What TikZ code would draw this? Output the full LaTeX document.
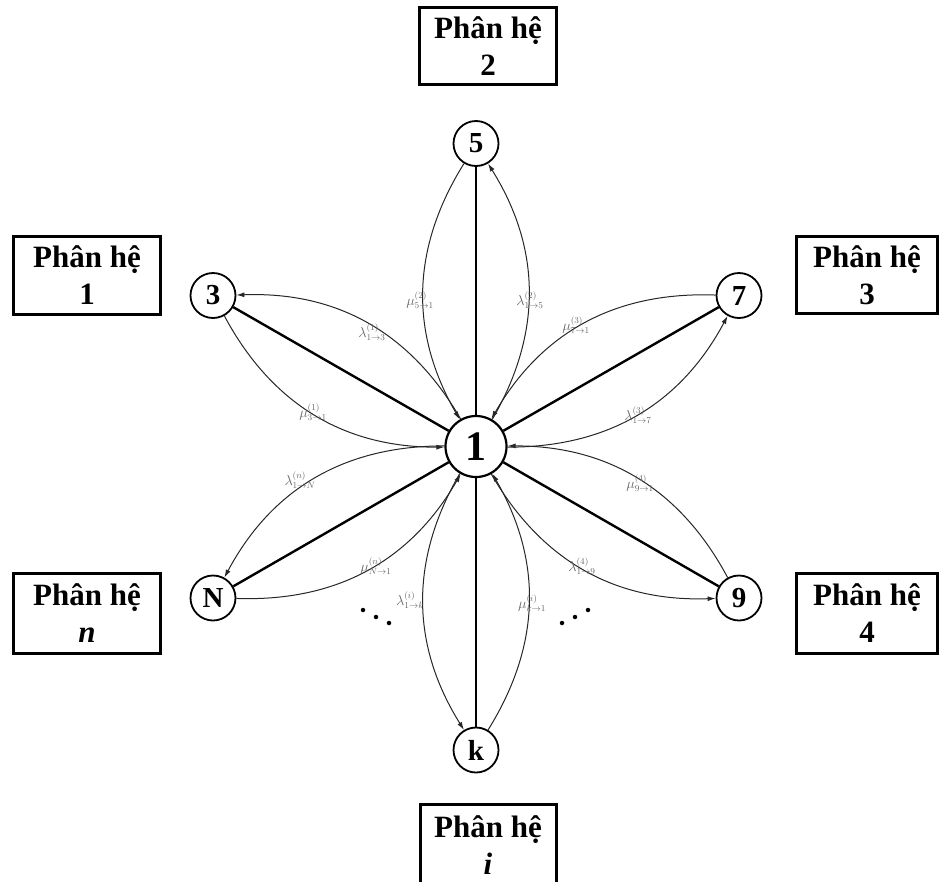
\documentclass[tikz,border=0pt]{standalone}
\usepackage{fontspec}
\setmainfont{Liberation Serif}
\usetikzlibrary{arrows.meta}
\begin{document}
\begin{tikzpicture}[x=1pt,y=-1pt,
  state/.style={circle,draw,line width=1.8pt,inner sep=0pt,minimum size=45pt,font=\fontsize{29}{29}\selectfont\bfseries},
  hub/.style={circle,draw,line width=2.2pt,inner sep=0pt,minimum size=61pt,font=\fontsize{42}{42}\selectfont\bfseries},
  subsys/.style={draw,line width=3pt,align=center,inner sep=0pt,font=\fontsize{31}{37}\selectfont\bfseries},
  link/.style={line width=2.4pt},
  flow/.style={line width=1pt,draw=black!85,-{Latex[length=8pt,width=5pt]}},
  rate/.style={text=black!60,font=\fontsize{13.5}{14}\selectfont,inner sep=0pt},
  dot/.style={circle,fill=black,inner sep=0pt,minimum size=4.5pt},
]
\useasboundingbox (0,0) rectangle (939,881);
\clip (0,0) rectangle (939,881);

% subsystem boxes
\node[subsys,minimum width=137pt,minimum height=77pt] (b2) at (488,46) {Phân hệ\\2};
\node[subsys,minimum width=147pt,minimum height=78pt] (b1) at (87,275.5) {Phân hệ\\1};
\node[subsys,minimum width=141pt,minimum height=77pt] (b3) at (867,275) {Phân hệ\\3};
\node[subsys,minimum width=147pt,minimum height=80pt] (bn) at (87,613.5) {Phân hệ\\\textit{n}};
\node[subsys,minimum width=141pt,minimum height=80pt] (b4) at (867,613.5) {Phân hệ\\4};
\node[subsys,minimum width=136pt,minimum height=82pt] (bi) at (488,845) {Phân hệ\\\textit{i}};

% states
\node[hub] (hub) at (476,446.5) {1};
\node[state] (s5) at (476,143.5) {5};
\node[state] (sk) at (476,750) {k};
\node[state] (s3) at (213,295.5) {3};
\node[state] (s7) at (739,295.5) {7};
\node[state] (sN) at (213,598) {N};
\node[state] (s9) at (739,598) {9};

\foreach \n in {s3,s5,s7,s9,sk,sN}{
  \draw[link] (hub) -- (\n);
  \draw[flow] (hub) to[bend right=31] (\n);
  \draw[flow] (\n) to[bend right=31] (hub);
}

% rates
\node[rate] (l13) at (372,332) {$\lambda_{1\to3}^{(1)}$};
\node[rate] (m31) at (313,412) {$\mu_{3\to1}^{(1)}$};
\node[rate] (m51) at (420,300) {$\mu_{5\to1}^{(2)}$};
\node[rate] (l15) at (530,300) {$\lambda_{1\to5}^{(2)}$};
\node[rate] (m71) at (576,325) {$\mu_{7\to1}^{(3)}$};
\node[rate] (l17) at (638,415) {$\lambda_{1\to7}^{(3)}$};
\node[rate] (m91) at (640,483) {$\mu_{9\to1}^{(4)}$};
\node[rate] (l19) at (582,566) {$\lambda_{1\to9}^{(4)}$};
\node[rate] (l1N) at (300,480) {$\lambda_{1\to N}^{(n)}$};
\node[rate] (mN1) at (376,566) {$\mu_{N\to1}^{(n)}$};
\node[rate] (l1k) at (410,600) {$\lambda_{1\to k}^{(i)}$};
\node[rate] (mk1) at (532,603) {$\mu_{k\to1}^{(i)}$};

% dots
\node[dot] (d1) at (363,610) {};
\node[dot] (d2) at (376,617) {};
\node[dot] (d3) at (389,623) {};
\node[dot] (d4) at (562,623) {};
\node[dot] (d5) at (575,617) {};
\node[dot] (d6) at (588,610) {};
\end{tikzpicture}
\end{document}
